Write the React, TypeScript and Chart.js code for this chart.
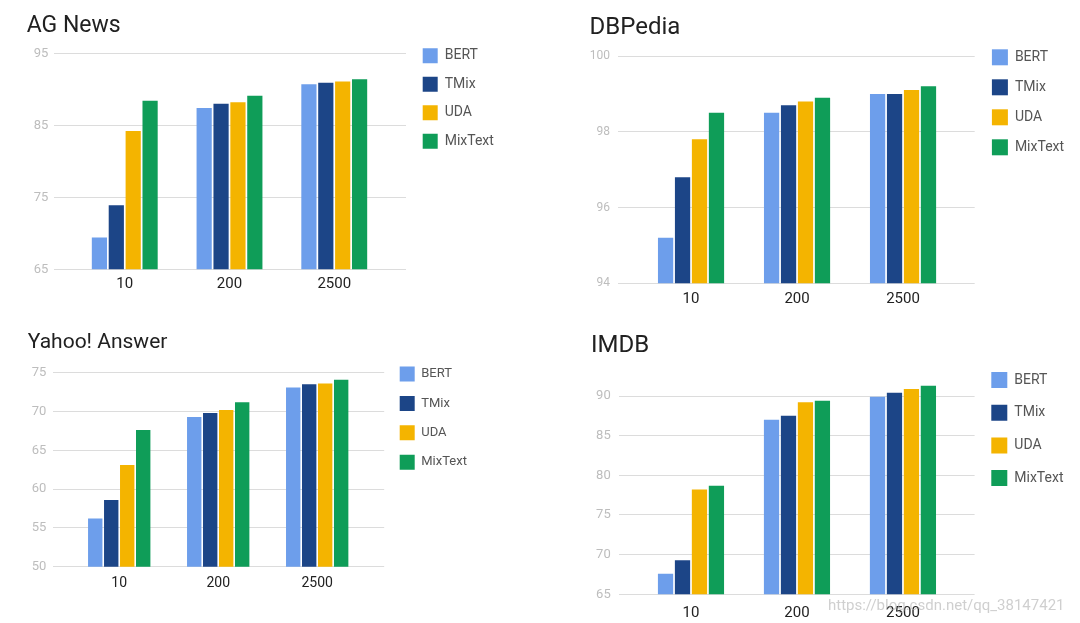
import React, { useEffect, useRef } from 'react';
import { Chart, registerables } from 'chart.js';

Chart.register(...registerables);

// ---------- data ----------
const sampleSizes = ['10', '200', '2500'];
const seriesNames = ['BERT', 'TMix', 'UDA', 'MixText'];
const seriesColors = ['#6d9eeb', '#1c4587', '#f4b400', '#0f9d58'];

const agNewsBERT = [69.4, 87.4, 90.7];
const agNewsTMix = [73.9, 88.0, 90.9];
const agNewsUDA = [84.2, 88.2, 91.1];
const agNewsMixText = [88.4, 89.1, 91.4];

const dbpediaBERT = [95.2, 98.5, 99.0];
const dbpediaTMix = [96.8, 98.7, 99.0];
const dbpediaUDA = [97.8, 98.8, 99.1];
const dbpediaMixText = [98.5, 98.9, 99.2];

const yahooBERT = [56.2, 69.3, 73.1];
const yahooTMix = [58.6, 69.8, 73.5];
const yahooUDA = [63.1, 70.2, 73.6];
const yahooMixText = [67.6, 71.2, 74.1];

const imdbBERT = [67.6, 87.0, 89.9];
const imdbTMix = [69.3, 87.5, 90.4];
const imdbUDA = [78.2, 89.2, 90.9];
const imdbMixText = [78.7, 89.4, 91.3];

const watermarkText = 'https://blog.csdn.net/qq_38147421';

// ---------- layout / style per panel ----------
const FONT = 'Roboto';

const panels = [
  {
    title: 'AG News', series: [agNewsBERT, agNewsTMix, agNewsUDA, agNewsMixText],
    left: 0, top: 0, width: 540, height: 310,
    titleSize: 23, titleTop: 12.5, titleBottom: 13.2, padLeft: 26.7, legendLeft: 409.2,
    yWidth: 27.6, yPad: 6, yFont: 13, yMin: 65, yMax: 95, yStep: 10,
    xMin: -0.6726, xMax: 2.685, xHeight: 40.7, xPad: 6, xFont: 15, catPct: 0.645,
    legendTitleH: 34.8, box: 15, legendPad: 13.5, legendFont: 14, gap: 3.2,
  },
  {
    title: 'DBPedia', series: [dbpediaBERT, dbpediaTMix, dbpediaUDA, dbpediaMixText],
    left: 540, top: 0, width: 540, height: 310,
    titleSize: 24, titleTop: 13.1, titleBottom: 14.1, padLeft: 49.5, legendLeft: 437.9,
    yWidth: 28.5, yPad: 8, yFont: 12, yMin: 94, yMax: 100, yStep: 2,
    xMin: -0.689, xMax: 2.676, xHeight: 26.7, xPad: 6.7, xFont: 15, catPct: 0.64,
    legendTitleH: 35.3, box: 16, legendPad: 14, legendFont: 14, gap: 3.2,
  },
  {
    title: 'Yahoo! Answer', series: [yahooBERT, yahooTMix, yahooUDA, yahooMixText],
    left: 0, top: 318, width: 540, height: 305,
    titleSize: 21, titleTop: 12.3, titleBottom: 17.2, padLeft: 27.8, legendLeft: 385.3,
    yWidth: 25.5, yPad: 6.9, yFont: 13, yMin: 50, yMax: 75, yStep: 5,
    xMin: -0.666, xMax: 2.677, xHeight: 56.3, xPad: 8.2, xFont: 14, catPct: 0.646,
    legendTitleH: 34.1, box: 15, legendPad: 14.4, legendFont: 13, gap: 1.1,
  },
  {
    title: 'IMDB', series: [imdbBERT, imdbTMix, imdbUDA, imdbMixText],
    left: 540, top: 318, width: 540, height: 305,
    titleSize: 24, titleTop: 13.6, titleBottom: 15.8, padLeft: 51, legendLeft: 434.6,
    yWidth: 27.5, yPad: 7.8, yFont: 13, yMin: 65, yMax: 92.5, yStep: 5,
    xMin: -0.684, xMax: 2.676, xHeight: 28.7, xPad: 10, xFont: 15, catPct: 0.64,
    legendTitleH: 37.3, box: 16, legendPad: 16.7, legendFont: 14, gap: 0,
  },
];

type PanelCfg = typeof panels[number];

function legendNaturalWidth(cfg: PanelCfg): number {
  const ctx = document.createElement('canvas').getContext('2d');
  let maxText = 50;
  if (ctx) {
    ctx.font = `${cfg.legendFont}px ${FONT}`;
    maxText = Math.max(...seriesNames.map((n) => ctx.measureText(n).width));
  }
  return cfg.legendPad + cfg.box + cfg.legendFont / 2 + maxText + 10;
}

function Panel({ cfg }: { cfg: PanelCfg }) {
  const ref = useRef<HTMLCanvasElement>(null);

  useEffect(() => {
    const canvas = ref.current;
    if (!canvas) return;

    const padRight = Math.max(0, cfg.width - cfg.legendLeft - legendNaturalWidth(cfg));

    const scales: any = {
      x: {
        type: 'linear',
        position: 'bottom',
        min: cfg.xMin,
        max: cfg.xMax,
        offset: false,
        grid: { display: false, drawTicks: false, offset: false },
        border: { display: false },
        ticks: {
          autoSkip: false,
          maxRotation: 0,
          padding: cfg.xPad,
          color: '#222222',
          font: { family: FONT, size: cfg.xFont },
          callback: (v: any) => sampleSizes[v as number] ?? '',
        },
        afterBuildTicks: (s: any) => {
          s.ticks = sampleSizes.map((_, i) => ({ value: i }));
        },
        afterFit: (s: any) => {
          s.height = cfg.xHeight;
        },
      },
      y: {
        type: 'linear',
        position: 'left',
        min: cfg.yMin,
        max: cfg.yMax,
        grid: { color: '#dcdcdc', lineWidth: 1, drawTicks: false },
        border: { display: false },
        ticks: {
          stepSize: cfg.yStep,
          includeBounds: false,
          padding: cfg.yPad,
          color: '#bdbdbd',
          font: { family: FONT, size: cfg.yFont },
        },
        afterFit: (s: any) => {
          s.width = cfg.yWidth;
        },
      },
    };
    if (cfg.gap > 0) {
      // invisible spacer between the plot area and the legend
      scales.gap = {
        type: 'linear',
        position: 'right',
        display: false,
        grid: { display: false, drawTicks: false },
        border: { display: false },
        ticks: { display: false },
        afterFit: (s: any) => {
          s.width = cfg.gap;
        },
      };
    }

    const chart = new Chart(canvas, {
      type: 'bar',
      data: {
        datasets: seriesNames.map((name, i) => ({
          label: name,
          data: cfg.series[i].map((v, j) => ({ x: j, y: v })),
          backgroundColor: seriesColors[i],
          borderWidth: 0,
          xAxisID: 'x',
          yAxisID: 'y',
          categoryPercentage: cfg.catPct,
          barPercentage: 0.9,
        })),
      },
      options: {
        responsive: false,
        maintainAspectRatio: false,
        devicePixelRatio: 1,
        animation: false,
        layout: { padding: { left: cfg.padLeft, right: padRight, top: 0, bottom: 0 } },
        scales,
        plugins: {
          tooltip: { enabled: false },
          title: {
            display: true,
            text: cfg.title,
            align: 'start',
            color: '#212121',
            font: { family: FONT, size: cfg.titleSize, weight: 'normal' },
            padding: { top: cfg.titleTop, bottom: cfg.titleBottom },
          },
          legend: {
            display: true,
            position: 'right',
            align: 'start',
            title: {
              display: true,
              text: '',
              font: { size: 10, lineHeight: 1 },
              padding: { top: cfg.legendTitleH - 10, bottom: 0 },
            },
            labels: {
              boxWidth: cfg.box,
              boxHeight: cfg.box,
              padding: cfg.legendPad,
              color: '#555555',
              font: { family: FONT, size: cfg.legendFont },
            },
          },
        },
      } as any,
    });

    return () => {
      chart.destroy();
    };
  }, [cfg]);

  return (
    <canvas
      ref={ref}
      width={cfg.width}
      height={cfg.height}
      style={{
        position: 'absolute',
        left: cfg.left,
        top: cfg.top,
        width: cfg.width,
        height: cfg.height,
      }}
    />
  );
}

export default function App() {
  return (
    <div
      style={{
        position: 'absolute',
        left: 0,
        top: 0,
        width: 1080,
        height: 623,
        background: '#ffffff',
        overflow: 'hidden',
      }}
    >
      {panels.map((p) => (
        <Panel key={p.title} cfg={p} />
      ))}
      <div
        style={{
          position: 'absolute',
          left: 828,
          top: 596,
          fontFamily: FONT,
          fontSize: 15,
          lineHeight: '18px',
          color: 'rgba(175,175,175,0.6)',
          whiteSpace: 'nowrap',
          pointerEvents: 'none',
        }}
      >
        {watermarkText}
      </div>
    </div>
  );
}
